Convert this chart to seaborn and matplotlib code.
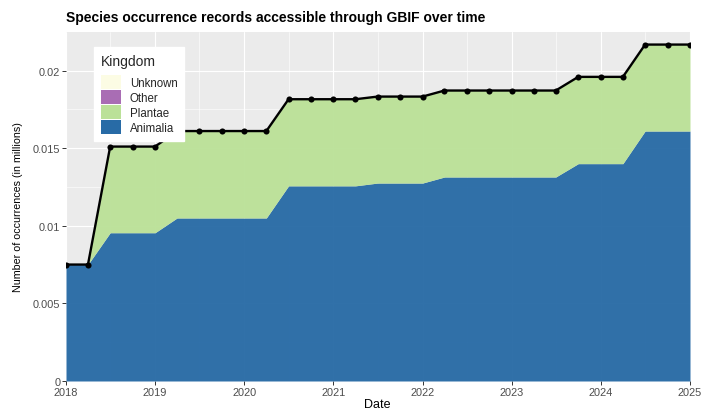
import matplotlib
matplotlib.use("Agg")
import matplotlib.pyplot as plt
import matplotlib.dates as mdates
from matplotlib.patches import Patch
from matplotlib.ticker import FuncFormatter, MultipleLocator
import seaborn as sns
import pandas as pd
import numpy as np

# ---- data ----
dates = pd.date_range("2018-01-01", "2025-01-01", freq="QS")
animalia = [0.0075, 0.0075, 0.00955, 0.00955,
            0.00955, 0.0105, 0.0105, 0.0105,
            0.0105, 0.0105, 0.01257, 0.01257,
            0.01257, 0.01257, 0.01275, 0.01275,
            0.01275, 0.01314, 0.01314, 0.01314,
            0.01314, 0.01314, 0.01314, 0.0140,
            0.0140, 0.0140, 0.0161, 0.0161,
            0.0161]
plantae = [0.0, 0.0, 0.00555, 0.00555,
           0.00555, 0.0056, 0.0056, 0.0056,
           0.0056, 0.0056, 0.00558, 0.00558,
           0.00558, 0.00558, 0.00557, 0.00557,
           0.00557, 0.00557, 0.00557, 0.00557,
           0.00557, 0.00557, 0.00557, 0.00559,
           0.00559, 0.00559, 0.00557, 0.00557,
           0.00557]
other = [0.0] * 29
unknown = [0.0] * 29

kingdoms = ["Unknown", "Other", "Plantae", "Animalia"]
colors = {"Unknown": "#FCFCE4", "Other": "#A96DB4",
          "Plantae": "#BBE198", "Animalia": "#286BA6"}
y_ticks = [0, 0.005, 0.01, 0.015, 0.02]
x_years = list(range(2018, 2026))

df = pd.DataFrame({"date": dates, "Animalia": animalia, "Plantae": plantae,
                   "Other": other, "Unknown": unknown})
df["total"] = df[["Animalia", "Plantae", "Other", "Unknown"]].sum(axis=1)

# ---- style ----
sns.set_theme(style="darkgrid")
plt.rcParams["font.family"] = ["Liberation Sans", "DejaVu Sans"]

fig = plt.figure(figsize=(7.07, 4.10), dpi=100)
fig.patch.set_facecolor("white")
W, H = 707, 410
L, R, T, B = 66, 690, 33, 382
ax = fig.add_axes([L / W, 1 - B / H, (R - L) / W, (B - T) / H])
ax.set_facecolor("#EBEBEB")

# stacked areas (bottom to top: Animalia, Plantae, Other, Unknown)
order = ["Animalia", "Plantae", "Other", "Unknown"]
ax.stackplot(df["date"], *[df[k] for k in order],
             colors=[colors[k] for k in order], alpha=0.96, linewidth=0, zorder=2)

sns.lineplot(data=df, x="date", y="total", color="black", linewidth=1.7,
             marker="o", markersize=4.4, markeredgewidth=0, ax=ax, zorder=3)

# axes scales
ax.set_xlim(pd.Timestamp("2018-01-01"), pd.Timestamp("2025-01-01"))
ax.set_ylim(0, 0.02248)
ax.set_yticks(y_ticks)
ax.yaxis.set_major_formatter(FuncFormatter(lambda v, p: f"{v:g}"))
ax.yaxis.set_minor_locator(MultipleLocator(0.0025))
ax.set_xticks([pd.Timestamp(f"{y}-01-01") for y in x_years])
ax.xaxis.set_major_formatter(mdates.DateFormatter("%Y"))
ax.xaxis.set_minor_locator(mdates.MonthLocator(bymonth=7))

ax.grid(which="major", color="white", linewidth=0.8, zorder=1)
ax.grid(which="minor", color="white", linewidth=0.4, zorder=1)
ax.set_axisbelow(True)
for s in ax.spines.values():
    s.set_visible(False)

ax.tick_params(axis="both", which="major", length=2.6, width=0.7,
               color="#333333", labelcolor="#4D4D4D", labelsize=7.9, pad=1.5,
               bottom=True, left=True)
ax.tick_params(axis="both", which="minor", length=0)

ax.set_xlabel("")
ax.set_ylabel("")
fig.text(18 / W, 1 - 207.5 / H, "Number of occurrences (in millions)", rotation=90,
         ha="center", va="center", fontsize=7.7, color="black")
fig.text(377 / W, 1 - 405.5 / H, "Date", ha="center", va="center",
         fontsize=9, color="black")
fig.text(66 / W, 1 - 18 / H, "Species occurrence records accessible through GBIF over time",
         ha="left", va="center", fontsize=10, fontweight="bold", color="black")

handles = [Patch(facecolor=colors[k], edgecolor="none") for k in kingdoms]
leg = ax.legend(handles, kingdoms, title="Kingdom", loc="upper left",
                bbox_to_anchor=((94 - L) / (R - L), (B - 48) / (B - T)),
                borderaxespad=0, frameon=True, fancybox=False, framealpha=1,
                facecolor="white", edgecolor="white", fontsize=8.3,
                title_fontsize=10, handlelength=1.75, handleheight=1.45,
                labelspacing=0.12, handletextpad=0.75, borderpad=0.6,
                alignment="left")
leg._legend_box.sep = 5
leg.set_zorder(5)

fig.savefig("out.png", dpi=100, facecolor="white")
